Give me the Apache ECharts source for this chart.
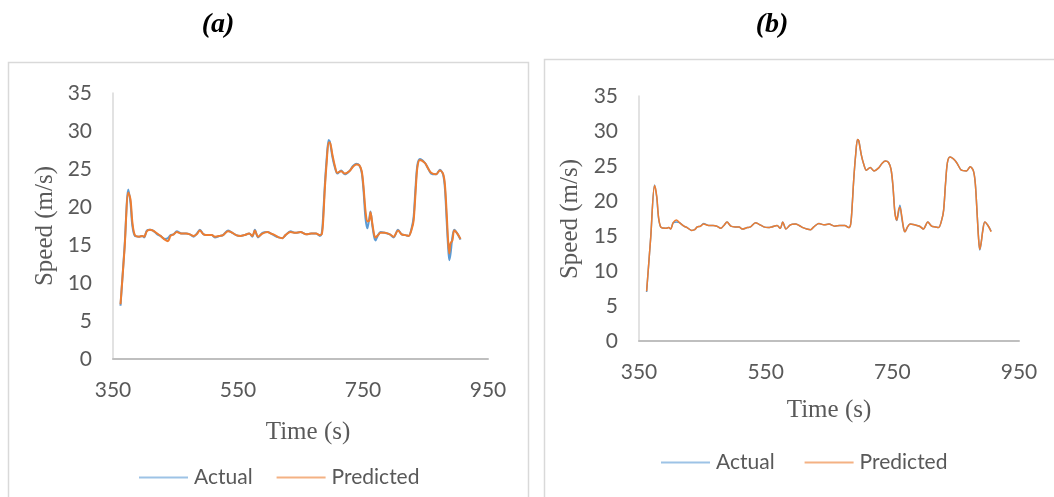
<!DOCTYPE html>
<html>
<head>
<meta charset="utf-8">
<script src="https://cdn.jsdelivr.net/npm/echarts@6/dist/echarts.min.js"></script>
<style>
html,body{margin:0;padding:0;background:#fff;}
#chart{width:1054px;height:497px;}
</style>
</head>
<body>
<div id="chart"></div>
<script>
// ---- data (time in s, speed in m/s) ----
const times = [
  362, 368.5, 374.5, 378, 381, 385, 392, 397, 400, 404,
  409, 414, 421, 426, 433, 438, 442, 447, 452, 460,
  467, 473, 479, 484, 489, 495, 502, 508, 513, 521,
  526, 534, 539, 547, 554, 560, 568, 573, 577, 582,
  589, 597, 603, 609, 615, 621, 626, 634, 642, 650,
  659, 667, 675, 681, 684, 686, 689, 692, 695, 697,
  701, 705, 709, 715, 721, 728, 734, 739, 744, 748,
  751, 754, 757, 760, 762, 765, 768, 770, 774, 778,
  785, 793, 799, 806, 812, 818, 823, 828, 831, 834,
  837, 841, 849, 854, 859, 867, 873, 878, 881, 884,
  886, 888, 890, 893, 896, 901, 906
];
const actual = [
  7.0, 14.8, 22.3, 20.5, 17.5, 16.2, 16.1, 16.2, 16.0, 16.9,
  17.0, 16.9, 16.4, 16.2, 15.8, 15.9, 16.3, 16.4, 16.8, 16.5,
  16.5, 16.4, 16.1, 16.5, 17.0, 16.4, 16.3, 16.3, 16.0, 16.2,
  16.3, 16.9, 16.7, 16.3, 16.2, 16.3, 16.5, 16.1, 17.0, 16.0,
  16.6, 16.7, 16.5, 16.2, 16.0, 15.9, 16.3, 16.8, 16.6, 16.7,
  16.4, 16.5, 16.5, 16.2, 16.6, 18.5, 23.0, 26.5, 28.8, 28.6,
  26.6, 25.2, 24.4, 24.8, 24.3, 24.7, 25.4, 25.7, 25.5, 24.5,
  22.0, 18.5, 17.2, 18.5, 19.4, 17.5, 16.0, 15.6, 16.3, 16.7,
  16.6, 16.4, 16.0, 17.0, 16.4, 16.3, 16.2, 17.3, 18.7, 22.5,
  25.5, 26.3, 25.8, 25.1, 24.4, 24.3, 24.9, 24.3, 22.5, 18.0,
  15.0, 13.0, 13.8, 16.0, 17.0, 16.5, 15.7
];
const predictedA = [
  7.2, 14.5, 21.9, 21.0, 18.0, 16.3, 16.1, 16.2, 16.1, 16.8,
  17.0, 16.9, 16.5, 16.2, 15.7, 15.5, 16.2, 16.4, 16.7, 16.5,
  16.5, 16.4, 16.2, 16.4, 16.9, 16.4, 16.3, 16.3, 16.1, 16.2,
  16.3, 16.8, 16.7, 16.3, 16.2, 16.3, 16.5, 16.2, 16.9, 16.1,
  16.5, 16.7, 16.5, 16.3, 16.0, 15.9, 16.3, 16.7, 16.6, 16.7,
  16.4, 16.5, 16.5, 16.3, 16.4, 17.8, 22.5, 26.0, 28.5, 28.5,
  26.9, 25.4, 24.5, 24.7, 24.4, 24.7, 25.3, 25.6, 25.5, 24.7,
  22.5, 19.5, 18.1, 18.2, 19.3, 17.8, 16.3, 16.0, 16.3, 16.6,
  16.6, 16.4, 16.1, 16.9, 16.4, 16.3, 16.2, 17.1, 18.2, 21.8,
  25.2, 26.2, 25.8, 25.1, 24.5, 24.3, 24.8, 24.4, 23.0, 19.0,
  15.8, 13.9, 15.2, 15.6, 16.9, 16.5, 15.8
];
const predictedB = [
  7.1, 14.8, 22.2, 20.7, 17.6, 16.2, 16.1, 16.2, 16.0, 16.9,
  17.3, 16.9, 16.4, 16.2, 15.8, 15.9, 16.3, 16.4, 16.7, 16.5,
  16.5, 16.4, 16.1, 16.5, 17.0, 16.4, 16.3, 16.3, 16.0, 16.2,
  16.3, 16.9, 16.7, 16.3, 16.2, 16.3, 16.5, 16.1, 17.0, 16.0,
  16.6, 16.7, 16.5, 16.2, 16.0, 15.9, 16.3, 16.8, 16.6, 16.7,
  16.4, 16.5, 16.5, 16.2, 16.6, 18.4, 23.0, 26.5, 28.8, 28.6,
  26.6, 25.2, 24.4, 24.8, 24.3, 24.7, 25.4, 25.7, 25.5, 24.5,
  22.2, 18.3, 17.3, 18.8, 19.1, 17.8, 16.0, 15.6, 16.3, 16.7,
  16.6, 16.4, 16.0, 17.0, 16.4, 16.3, 16.2, 17.3, 18.7, 22.5,
  25.5, 26.3, 25.8, 25.1, 24.4, 24.3, 24.9, 24.3, 22.5, 18.0,
  14.8, 13.1, 13.9, 15.8, 17.0, 16.5, 15.6
];
const seriesNames = ['Actual', 'Predicted'];
const panelTitles = ['(a)', '(b)'];
const xTitle = 'Time (s)';
const yTitle = 'Speed (m/s)';
const xMin = 350, xMax = 950, xStep = 200;
const yMin = 0, yMax = 35, yStep = 5;

// ---- chart ----
const pair = (vals) => times.map((t, i) => [t, vals[i]]);
const blue = '#5B9BD5', orange = '#ED7D31', txt = '#595959';
const tickFont = 'Lato, "Open Sans", sans-serif';
const serif = '"Liberation Serif", "DejaVu Serif", serif';
const tickSize = 21;

function xAx(gi) {
  return {
    type: 'value', gridIndex: gi, min: xMin, max: xMax, interval: xStep,
    axisLine: {show: true, onZero: false, lineStyle: {color: '#bfbfbf', width: 2}},
    axisTick: {show: false}, splitLine: {show: false},
    axisLabel: {color: txt, fontSize: tickSize, fontFamily: tickFont, margin: 21}
  };
}
function yAx(gi) {
  return {
    type: 'value', gridIndex: gi, min: yMin, max: yMax, interval: yStep,
    axisLine: {show: true, lineStyle: {color: '#d9d9d9', width: 1.5}},
    axisTick: {show: false}, splitLine: {show: false},
    axisLabel: {color: txt, fontSize: tickSize, fontFamily: tickFont, margin: 21}
  };
}
function line(name, gi, vals, color, w) {
  return {
    name: name, type: 'line', xAxisIndex: gi, yAxisIndex: gi,
    data: pair(vals), showSymbol: false, symbol: 'none', smooth: 0.3,
    lineStyle: {color: color, width: w}, itemStyle: {color: color},
    animation: false
  };
}
function legend(left, top, gap) {
  return {
    left: left, top: top, itemWidth: 49, itemHeight: 2, itemGap: gap, icon: 'rect',
    textStyle: {color: txt, fontSize: tickSize, fontFamily: tickFont, padding: [0, 0, 0, 1]},
    data: [
      {name: seriesNames[0], itemStyle: {color: '#9DC3E6'}},
      {name: seriesNames[1], itemStyle: {color: '#F4B183'}}
    ],
    selectedMode: false
  };
}
function gtext(x, y, text, rot, size) {
  return {
    type: 'text', x: x, y: y, rotation: rot || 0, silent: true,
    style: {text: text, fill: txt, font: size + 'px ' + serif,
      align: 'center', verticalAlign: 'middle'}
  };
}

const chart = echarts.init(document.getElementById('chart'), null, {renderer: 'canvas'});
chart.setOption({
  backgroundColor: '#fff',
  animation: false,
  grid: [
    {left: 113, top: 93, width: 375, height: 266},
    {left: 639, top: 96, width: 380, height: 245}
  ],
  xAxis: [xAx(0), xAx(1)],
  yAxis: [yAx(0), yAx(1)],
  legend: [legend(134, 462, 24), legend(656, 447, 30)],
  series: [
    line(seriesNames[0], 0, actual, blue, 2),
    line(seriesNames[1], 0, predictedA, orange, 2),
    line(seriesNames[0], 1, actual, blue, 1.5),
    line(seriesNames[1], 1, predictedB, orange, 1.5)
  ],
  graphic: [
    {type: 'rect', silent: true, z: -1, shape: {x: 8.5, y: 62.5, width: 520, height: 445},
      style: {fill: 'none', stroke: '#d9d9d9', lineWidth: 1.5}},
    {type: 'rect', silent: true, z: -1, shape: {x: 544.5, y: 59.5, width: 520, height: 445},
      style: {fill: 'none', stroke: '#d9d9d9', lineWidth: 1.5}},
    {type: 'text', x: 218, y: 25, silent: true,
      style: {text: panelTitles[0], fill: '#000', font: 'italic bold 28px ' + serif, align: 'center', verticalAlign: 'middle'}},
    {type: 'text', x: 772, y: 25, silent: true,
      style: {text: panelTitles[1], fill: '#000', font: 'italic bold 28px ' + serif, align: 'center', verticalAlign: 'middle'}},
    gtext(45, 226, yTitle, Math.PI / 2, 25),
    gtext(570, 219, yTitle, Math.PI / 2, 25),
    gtext(308, 432, xTitle, 0, 25),
    gtext(829, 410, xTitle, 0, 25)
  ]
});
</script>
</body>
</html>
